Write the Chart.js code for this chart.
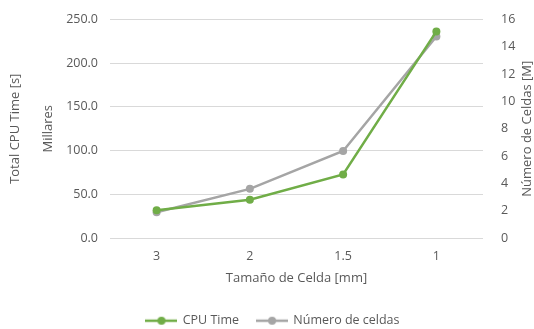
<!DOCTYPE html>
<html>
<head>
<meta charset="utf-8">
<script src="https://cdn.jsdelivr.net/npm/chart.js@4"></script>
<style>
  html, body { margin: 0; padding: 0; background: #fff; }
  #wrap { width: 534px; height: 329px; }
</style>
</head>
<body>
<div id="wrap"><canvas id="chart"></canvas></div>
<script>
const cellSizes = ['3', '2', '1.5', '1'];
const cpuTime = [31.7, 43.8, 72.7, 236.4];
const cellCount = [1.88, 3.6, 6.37, 14.75];
const leftTicks = [0, 50, 100, 150, 200, 250];
const rightTicks = [0, 2, 4, 6, 8, 10, 12, 14, 16];
const rightTitle = 'Número de Celdas [M]';

const GREEN = '#70AD47';
const GRAY = '#A5A5A5';
const TEXT = '#595959';
const FONT = 'Open Sans';

function legendMarker(color) {
    const c = document.createElement('canvas');
    c.width = 32;
    c.height = 10;
    const ctx = c.getContext('2d');
    ctx.strokeStyle = color;
    ctx.lineWidth = 2.5;
    ctx.beginPath();
    ctx.moveTo(0, 5);
    ctx.lineTo(32, 5);
    ctx.stroke();
    ctx.fillStyle = color;
    ctx.beginPath();
    ctx.arc(16, 5, 4, 0, Math.PI * 2);
    ctx.fill();
    return c;
}

// right axis title reads bottom-to-top like the left one
const rightTitlePlugin = {
    id: 'rightTitle',
    afterDraw: (chart) => {
        const { ctx, chartArea } = chart;
        ctx.save();
        ctx.translate(527, (chartArea.top + chartArea.bottom) / 2);
        ctx.rotate(-Math.PI / 2);
        ctx.fillStyle = TEXT;
        ctx.font = `13px "${FONT}"`;
        ctx.textAlign = 'center';
        ctx.textBaseline = 'middle';
        ctx.fillText(rightTitle, 0, 0);
        ctx.restore();
    }
};

new Chart(document.getElementById('chart'), {
    type: 'line',
    plugins: [rightTitlePlugin],
    data: {
        labels: cellSizes,
        datasets: [
            {
                label: 'CPU Time',
                data: cpuTime,
                yAxisID: 'y',
                borderColor: GREEN,
                backgroundColor: GREEN,
                borderWidth: 2.5,
                pointRadius: 4,
                pointStyle: 'circle',
                pointBorderWidth: 0
            },
            {
                label: 'Número de celdas',
                data: cellCount,
                yAxisID: 'y1',
                borderColor: GRAY,
                backgroundColor: GRAY,
                borderWidth: 2.5,
                pointRadius: 4,
                pointStyle: 'circle',
                pointBorderWidth: 0
            }
        ]
    },
    options: {
        responsive: true,
        maintainAspectRatio: false,
        animation: false,
        layout: { padding: { left: 12, right: 0, top: 9, bottom: -8 } },
        plugins: {
            legend: {
                position: 'bottom',
                labels: {
                    color: TEXT,
                    font: { family: FONT, size: 12.5 },
                    usePointStyle: true,
                    pointStyleWidth: 30,
                    padding: 18,
                    generateLabels: (chart) => chart.data.datasets.map((ds, i) => ({
                        text: ds.label,
                        fontColor: TEXT,
                        pointStyle: legendMarker(ds.borderColor),
                        datasetIndex: i,
                        hidden: false,
                        lineWidth: 0
                    }))
                }
            },
            tooltip: { enabled: false }
        },
        scales: {
            x: {
                offset: true,
                afterFit: (axis) => { axis.height = 58.5; },
                grid: { display: false },
                border: { display: false },
                ticks: { color: TEXT, font: { family: FONT, size: 12.5 }, padding: 3 },
                title: {
                    display: true,
                    text: 'Tamaño de Celda [mm]',
                    color: TEXT,
                    font: { family: FONT, size: 13 },
                    padding: { top: 0, bottom: 10.7 }
                }
            },
            y: {
                position: 'left',
                min: 0,
                max: 250,
                afterFit: (axis) => { axis.width = 98; },
                afterBuildTicks: (axis) => { axis.ticks = leftTicks.map(v => ({ value: v })); },
                grid: { color: '#D9D9D9', lineWidth: 1, drawTicks: false },
                border: { display: false },
                ticks: {
                    color: TEXT,
                    font: { family: FONT, size: 12.5 },
                    padding: 12,
                    callback: (v) => Number(v).toFixed(1)
                },
                title: {
                    display: true,
                    text: ['Total CPU Time [s]', 'Millares'],
                    color: TEXT,
                    font: { family: FONT, size: 13, lineHeight: 2.55 },
                    padding: { top: -13, bottom: 0 }
                }
            },
            y1: {
                position: 'right',
                min: 0,
                max: 16,
                afterFit: (axis) => { axis.width = 51; },
                afterBuildTicks: (axis) => { axis.ticks = rightTicks.map(v => ({ value: v })); },
                grid: { display: false },
                border: { display: false },
                ticks: { color: TEXT, font: { family: FONT, size: 12.5 }, padding: 10 }
            }
        }
    }
});
</script>
</body>
</html>
